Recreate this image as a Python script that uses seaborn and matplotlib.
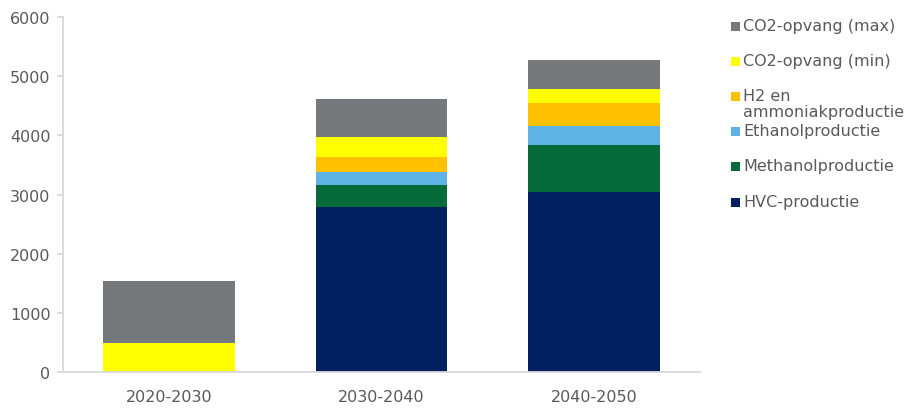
import matplotlib
matplotlib.use("Agg")
import matplotlib.pyplot as plt
import seaborn as sns
import numpy as np
import pandas as pd
from matplotlib.patches import Rectangle

categories = ["2020-2030", "2030-2040", "2040-2050"]
series_names = ["HVC-productie", "Methanolproductie", "Ethanolproductie",
                "H2 en\nammoniakproductie", "CO2-opvang (min)", "CO2-opvang (max)"]
hvc = [0, 2790, 3035]
methanol = [0, 375, 805]
ethanol = [0, 220, 310]
h2 = [0, 255, 400]
co2_min = [490, 335, 230]
co2_max = [1040, 635, 490]
colors = ["#002060", "#066B38", "#5FB3E4", "#FFC000", "#FFFF00", "#75797C"]
yticks = [0, 1000, 2000, 3000, 4000, 5000, 6000]

sns.set_theme(style="white")
plt.rcParams['font.family'] = ['DejaVu Sans']

fig = plt.figure(figsize=(9.07, 4.10), dpi=100)
ax = fig.add_axes([63/907, 1-373/410, (700-63)/907, (373-18)/410])

values = np.array([hvc, methanol, ethanol, h2, co2_min, co2_max], dtype=float)
cum = np.cumsum(values, axis=0)
for i in range(len(series_names) - 1, -1, -1):
    df = pd.DataFrame({"cat": categories, "val": cum[i]})
    sns.barplot(data=df, x="cat", y="val", color=colors[i], saturation=1,
                width=0.62, linewidth=0, edgecolor="none", ax=ax, errorbar=None)

ax.set_xlim(-0.5, 2.5)
ax.set_ylim(0, 6000)
ax.set_yticks(yticks)
ax.set_yticklabels([str(t) for t in yticks])
ax.set_xlabel("")
ax.set_ylabel("")
for s in ["top", "right"]:
    ax.spines[s].set_visible(False)
for s in ["left", "bottom"]:
    ax.spines[s].set_color("#D9D9D9")
    ax.spines[s].set_linewidth(1.3)
ax.tick_params(axis="x", which="major", length=0, labelsize=11.5, labelcolor="#595959", pad=12)
ax.set_xticks([-0.5, 0.5, 1.5, 2.5], minor=True)
ax.tick_params(axis="x", which="minor", length=4, color="#D9D9D9", width=1.3, direction="out")
ax.tick_params(axis="y", length=4, color="#D9D9D9", width=1.3, labelsize=11.5,
               labelcolor="#595959", pad=5, left=True)

# legend (manual, matching reference layout)
legend_items = [("CO2-opvang (max)", colors[5], 27),
                ("CO2-opvang (min)", colors[4], 62),
                ("H2 en\nammoniakproductie", colors[3], 97),
                ("Ethanolproductie", colors[2], 132),
                ("Methanolproductie", colors[1], 167),
                ("HVC-productie", colors[0], 203)]
for label, col, ypix in legend_items:
    fig.patches.append(Rectangle((731/907, 1-(ypix+4.5)/410), 9/907, 9/410,
                                 transform=fig.transFigure, facecolor=col,
                                 edgecolor="none"))
    fig.text(743/907, 1-(ypix-8)/410, label, fontsize=11.5, color="#595959",
             va="top", ha="left", linespacing=1.1)

fig.savefig("out.png", dpi=100)
